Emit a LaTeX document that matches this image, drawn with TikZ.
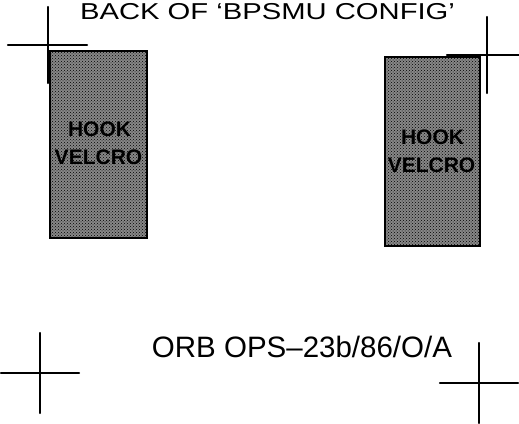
\documentclass[tikz,border=0pt]{standalone}
\usepackage{fontspec}
\setmainfont{Liberation Sans}
\usetikzlibrary{positioning,patterns}

\definecolor{velcrogray}{RGB}{135,135,135}

\begin{document}
\begin{tikzpicture}[x=1pt,y=-1pt,
    markline/.style={line width=2.3pt,line cap=round},
    velcropad/.style={draw,line width=2pt,fill=velcrogray,inner sep=0pt,
      postaction={pattern=crosshatch dots}},
    padlabel/.style={font=\fontsize{21}{21}\bfseries\selectfont,inner sep=0pt,anchor=base}]
    \useasboundingbox (0,0) rectangle (519,423);
    \clip (0,0) rectangle (519,423);
    % registration crosses: centre, horizontal arm, vertical arm
    \foreach \cx/\cy/\xa/\xb/\ya/\yb in {48/45/8/87/7/83,487/55/447/519/17/93,
      40/373/1/79/333/413,479/383/440/518/343/423} {
      \draw[markline] (\xa,\cy)--(\xb,\cy);
      \draw[markline] (\cx,\ya)--(\cx,\yb);
    }
    \node[velcropad,minimum width=97pt,minimum height=187pt] (padleft) at (98.5,144.5) {};
    \node[velcropad,minimum width=95pt,minimum height=189pt] (padright) at (432.5,151.5) {};
    \node[padlabel] (hookleft) at ([yshift=-86pt,xshift=1pt]padleft.north) {HOOK};
    \node[padlabel] (velcroleft) at ([yshift=-28pt,xshift=-1pt]hookleft.base) {VELCRO};
    \node[padlabel] (hookright) at ([yshift=-88pt]padright.north) {HOOK};
    \node[padlabel] (velcroright) at ([yshift=-28pt,xshift=-1pt]hookright.base) {VELCRO};
    \node[font=\fontsize{23}{23}\selectfont,xscale=1.27,anchor=base,inner sep=0pt]
      (title) at (267.5,19) {BACK OF ‘BPSMU CONFIG’};
    \node[font=\fontsize{29.5}{30}\selectfont,anchor=base,inner sep=0pt]
      (refcode) at (302,357) {ORB OPS–23b/86/O/A};
\end{tikzpicture}
\end{document}
